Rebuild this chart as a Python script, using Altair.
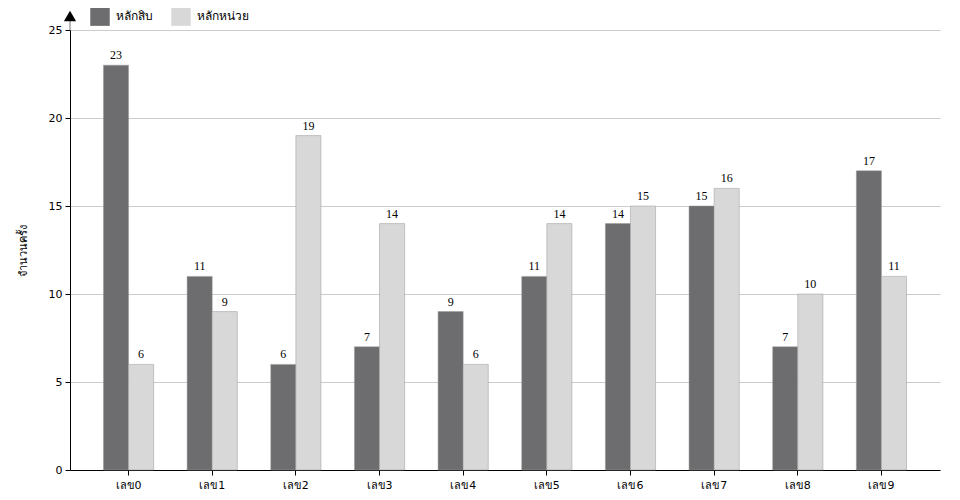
import altair as alt
import pandas as pd

digits = ["เลข0", "เลข1", "เลข2", "เลข3", "เลข4", "เลข5", "เลข6", "เลข7", "เลข8", "เลข9"]
places = ["หลักสิบ", "หลักหน่วย"]
tens = [23, 11, 6, 7, 9, 11, 14, 15, 7, 17]
units = [6, 9, 19, 14, 6, 14, 15, 16, 10, 11]
colors = ["#6d6d6f", "#d8d8d8"]

rows = []
for d, t, u in zip(digits, tens, units):
    rows.append({"digit": d, "place": places[0], "count": t})
    rows.append({"digit": d, "place": places[1], "count": u})
df = pd.DataFrame(rows)

yscale = alt.Scale(domain=[0, 25], nice=False, zero=True)

xenc = alt.X("digit:N", sort=digits, title=None,
             scale=alt.Scale(paddingInner=0.4, paddingOuter=0.4),
             axis=alt.Axis(labelAngle=0, labelFontSize=11, labelFont="DejaVu Sans",
                           labelColor="#000", domainColor="#000", tickColor="#000",
                           labelPadding=4, grid=False))
xoff = alt.XOffset("place:N", sort=places, scale=alt.Scale(paddingInner=0, paddingOuter=0))

base = alt.Chart(df)

bars = base.mark_bar(stroke="#999999", strokeWidth=0.5).encode(
    x=xenc,
    xOffset=xoff,
    y=alt.Y("count:Q", title="จำนวนครั้ง",
            scale=yscale,
            axis=alt.Axis(values=[0, 5, 10, 15, 20, 25], labelFontSize=11,
                          labelFont="DejaVu Sans", labelColor="#000",
                          titleFont="DejaVu Sans", titleFontSize=11, titleFontWeight="normal",
                          titleColor="#000", titlePadding=20,
                          domainColor="#000", tickColor="#000",
                          gridColor="#cccccc", labelPadding=3)),
    color=alt.Color("place:N", sort=places,
                    scale=alt.Scale(domain=places, range=colors),
                    legend=alt.Legend(title=None, orient="none", legendX=20, legendY=-24,
                                      direction="horizontal", symbolType="square",
                                      symbolSize=380, symbolStrokeWidth=0,
                                      labelFontSize=12, labelFont="DejaVu Sans",
                                      labelColor="#000", labelOffset=6,
                                      columnPadding=18)),
)

labels = base.mark_text(baseline="bottom", dy=-3, fontSize=12,
                        font="Liberation Serif", color="#000").encode(
    x=alt.X("digit:N", sort=digits),
    xOffset=xoff,
    y=alt.Y("count:Q", scale=yscale),
    text="count:Q",
)

marker_data = alt.Data(values=[{"k": 1}])
arrow_line = alt.Chart(marker_data).mark_rule(color="#777777", strokeWidth=1).encode(
    x=alt.value(0), y=alt.value(-12), y2=alt.value(0))
arrow = alt.Chart(marker_data).mark_point(shape="triangle-up", filled=True,
                                          color="#000", size=150, opacity=1).encode(
    x=alt.value(0), y=alt.value(-14))

chart = alt.layer(bars, labels, arrow_line, arrow).properties(
    width=870, height=440,
    autosize=alt.AutoSizeParams(type="none"),
    padding={"left": 62, "top": 22, "right": 12, "bottom": 22},
).configure_view(stroke=None)

chart.save("out.html", embed_options={"renderer": "svg", "actions": False})
